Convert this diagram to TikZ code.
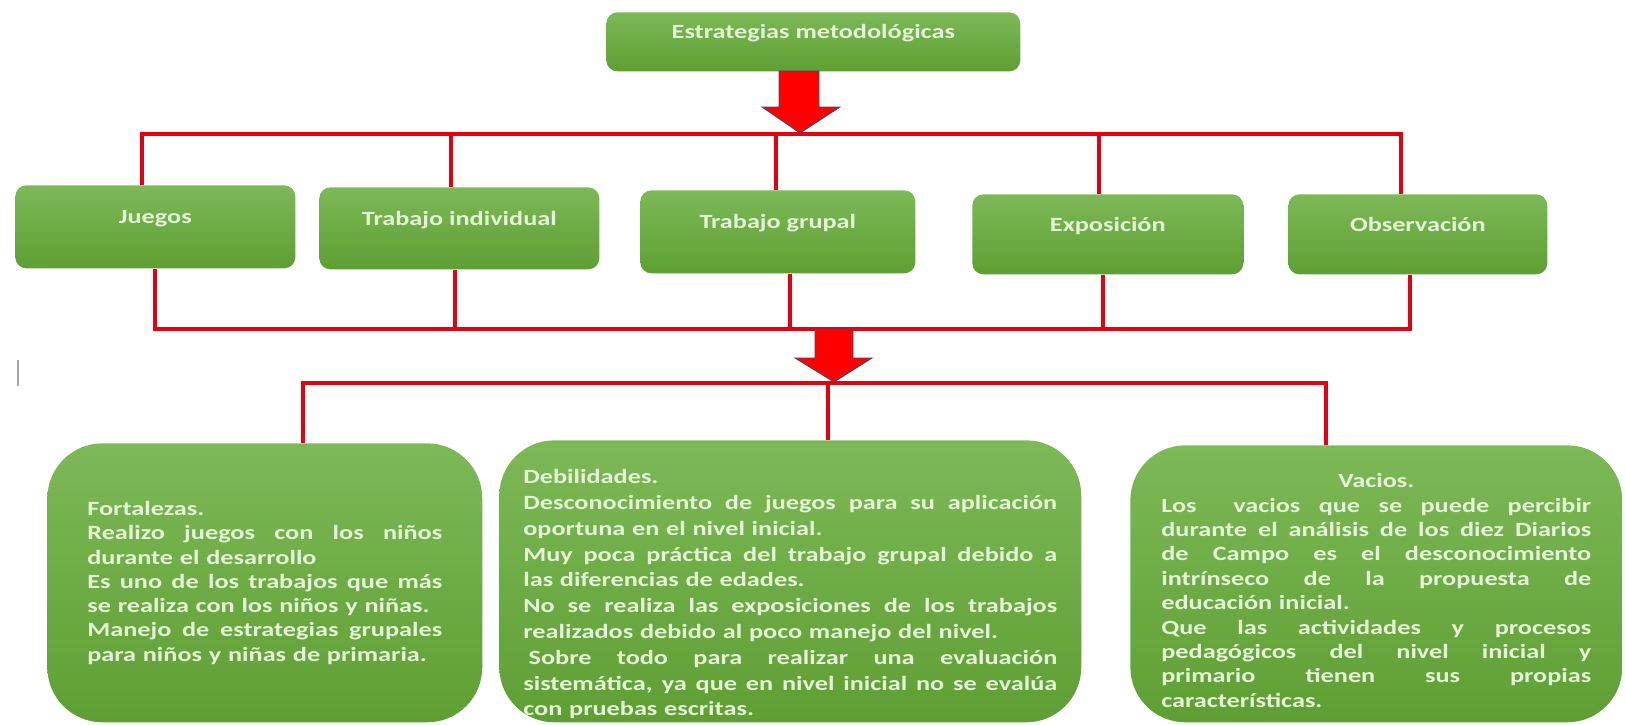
\documentclass[tikz,border=0pt]{standalone}
\usepackage{fontspec}
\setmainfont{Carlito}[FakeStretch=1.3]
\usetikzlibrary{positioning}
\definecolor{boxtop}{HTML}{7DB957}
\definecolor{boxbot}{HTML}{5E9F33}
\definecolor{boxtext}{HTML}{E4F2D8}
\definecolor{busred}{HTML}{E3000F}
\definecolor{arrowedge}{HTML}{3B4A78}
\newcommand{\jl}[1]{\makebox[\linewidth][s]{\spaceskip=.3333em plus 1fil\xspaceskip=.3333em plus 1fil\relax#1}}

\begin{document}
\begin{tikzpicture}[x=0.02cm, y=-0.02cm,
                    greenbox/.style={rectangle, top color=boxtop, bottom color=boxbot, draw=none, text=boxtext, font=\bfseries\fontsize{11.5}{14}\selectfont, anchor=north west, inner sep=0pt},
                    headbox/.style={greenbox, rounded corners=0.22cm, align=center, text height=0.3cm, text depth=0.42cm},
                    notebox/.style={greenbox, rounded corners=1.1cm, align=left},
                    bus/.style={busred, line width=0.08cm},
                    blockarrow/.style={fill=red, draw=arrowedge, line width=0.5pt}
                ]
                    \useasboundingbox (0,0) rectangle (1625,724);

                    \node[headbox, minimum width=8.28cm, minimum height=1.18cm] (top) at (606,12) {Estrategias metodológicas};

                    \node[headbox, minimum width=5.6cm, minimum height=1.66cm] (juegos) at (15,185) {Juegos};
                    \node[headbox, minimum width=5.6cm, minimum height=1.64cm] (indiv) at (319,187) {Trabajo individual};
                    \node[headbox, minimum width=5.5cm, minimum height=1.66cm] (grupal) at (640,190) {Trabajo grupal};
                    \node[headbox, minimum width=5.42cm, minimum height=1.6cm] (expo) at (972,194) {Exposición};
                    \node[headbox, minimum width=5.18cm, minimum height=1.6cm] (obs) at (1288,194) {Observación};

                    \node[notebox, minimum width=8.7cm, minimum height=5.58cm, text width=7.1cm, font=\bfseries\fontsize{11.5}{13.8}\selectfont] (fort) at (47,443) {Fortalezas.\\
                        \jl{Realizo juegos con los niños}\\
                        durante el desarrollo\\
                        \jl{Es uno de los trabajos que más}\\
                        se realiza con los niños y niñas.\\
                        \jl{Manejo de estrategias grupales}\\
                        para niños y niñas de primaria.};
                    \node[notebox, minimum width=11.64cm, minimum height=5.64cm, text width=10.68cm, font=\bfseries\fontsize{11.5}{14.7}\selectfont] (deb) at (499,440) {\rule{0pt}{0.8cm}Debilidades.\\
                        \jl{Desconocimiento de juegos para su aplicación}\\
                        oportuna en el nivel inicial.\\
                        \jl{Muy poca práctica del trabajo grupal debido a}\\
                        las diferencias de edades.\\
                        \jl{No se realiza las exposiciones de los trabajos}\\
                        realizados debido al poco manejo del nivel.\\
                        \jl{\hspace*{3pt}Sobre todo para realizar una evaluación}\\
                        \jl{sistemática, ya que en nivel inicial no se evalúa}\\
                        con pruebas escritas.};
                    \node[notebox, minimum width=9.84cm, minimum height=5.54cm, text width=8.6cm, font=\bfseries\fontsize{11.5}{13.9}\selectfont] (vac) at (1130,445) {\makebox[\linewidth]{\rule{0pt}{0.55cm}Vacios.}\\
                        \jl{Los\ \ vacios que se puede percibir}\\
                        \jl{durante el análisis de los diez Diarios}\\
                        \jl{de Campo es el desconocimiento}\\
                        \jl{intrínseco de la propuesta de}\\
                        educación inicial.\\
                        \jl{Que las actividades y procesos}\\
                        \jl{pedagógicos del nivel inicial y}\\
                        \jl{primario tienen sus propias}\\
                        características.};

                    \coordinate (topbus) at (0,134);
                    \coordinate (midbus) at (0,329);
                    \coordinate (lowbus) at (0,383);

                    \draw[bus] ([xshift=-0.26cm]juegos.north) -- ([xshift=-0.26cm]juegos.north |- topbus) -- ([xshift=-0.33cm]obs.north |- topbus) -- ([xshift=-0.33cm]obs.north);
                    \foreach \n/\s in {indiv/-0.16, grupal/-0.04, expo/-0.18}
                        \draw[bus] ([xshift=\s cm]\n.north) -- ([xshift=\s cm]\n.north |- topbus);

                    \draw[bus] (juegos.south) -- (juegos.south |- midbus) -- ([xshift=-0.15cm]obs.south |- midbus) -- ([xshift=-0.15cm]obs.south);
                    \foreach \n/\s in {indiv/-0.08, grupal/0.24, expo/-0.09}
                        \draw[bus] ([xshift=\s cm]\n.south) -- ([xshift=\s cm]\n.south |- midbus);

                    \draw[bus] ([xshift=0.77cm]fort.north) -- ([xshift=0.77cm]fort.north |- lowbus) -- ([xshift=-1cm]vac.north |- lowbus) -- ([xshift=-1cm]vac.north);
                    \draw[bus] ([xshift=0.76cm]deb.north) -- ([xshift=0.76cm]deb.north |- lowbus);

                    \filldraw[blockarrow] (779,71) -- (819,71) -- (819,107) -- (840,107) -- (800,133) -- (762,107) -- (779,107) -- cycle;
                    \filldraw[blockarrow] (815,329) -- (853,329) -- (853,358) -- (872,358) -- (834,382) -- (795,358) -- (815,358) -- cycle;

                    \draw[gray!70, line width=0.05cm] (18,360) -- (18,386);
                \end{tikzpicture}
\end{document}
